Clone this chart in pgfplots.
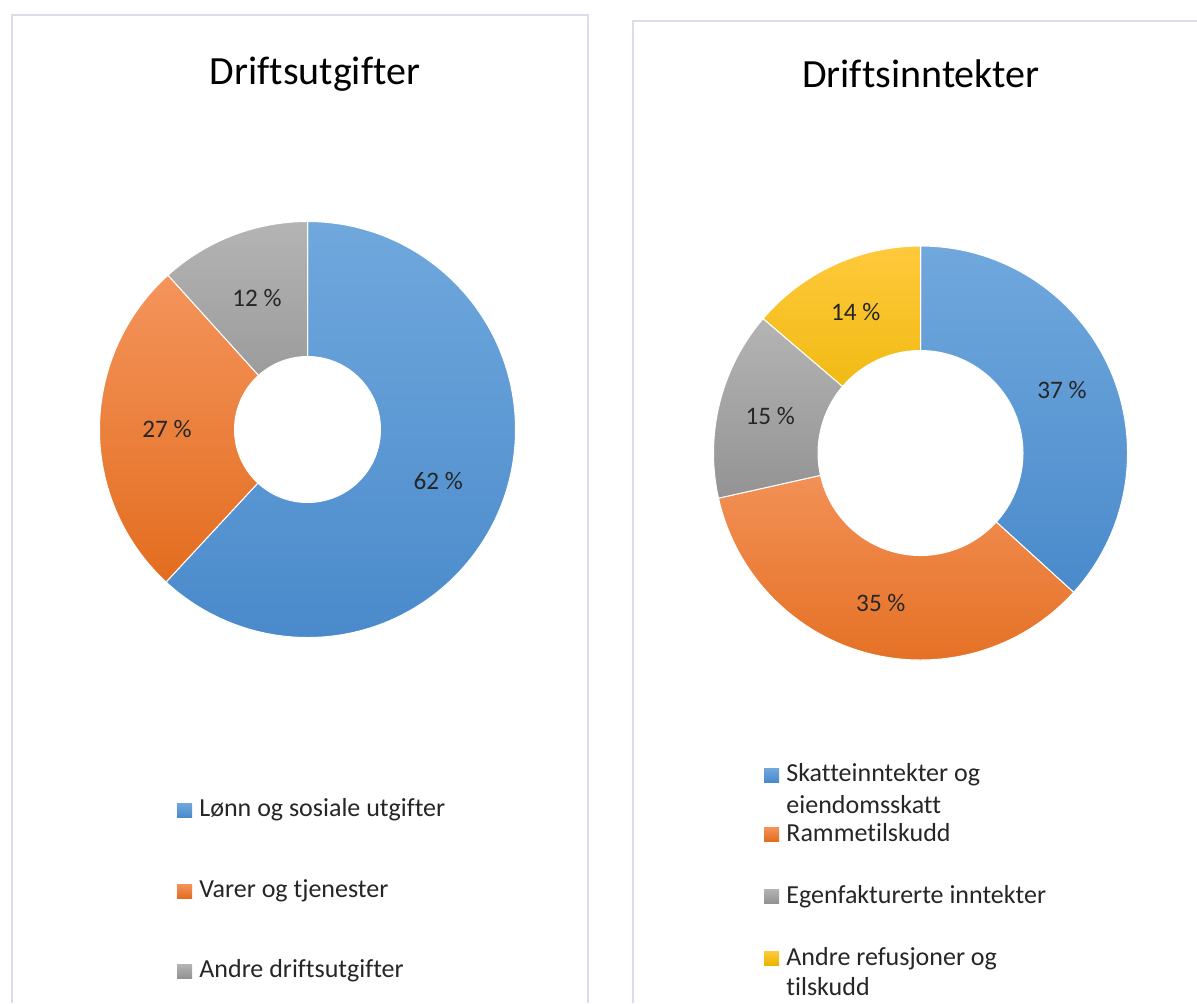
\documentclass[border=0pt]{standalone}
\usepackage{pgfplots}
\pgfplotsset{compat=1.18}
\usepackage{fontspec}
\setmainfont{Carlito}[Ligatures={NoCommon}]

\definecolor{bordercol}{HTML}{D9DEE8}
\definecolor{blueT}{HTML}{70A8DD}
\definecolor{blueB}{HTML}{4A8ACB}
\definecolor{orangeT}{HTML}{F4945C}
\definecolor{orangeB}{HTML}{E36D1F}
\definecolor{grayT}{HTML}{B4B4B4}
\definecolor{grayB}{HTML}{939393}
\definecolor{yellowT}{HTML}{FFC93C}
\definecolor{yellowB}{HTML}{E9B400}
\definecolor{txt}{HTML}{262626}

% #1 start (%), #2 value (%), #3 outer radius (pt), #4 inner radius (pt),
% #5 top colour, #6 bottom colour, #7 label
\newcommand\slice[7]{%
  \pgfmathsetmacro\sa{90-3.6*(#1)}%
  \pgfmathsetmacro\ea{90-3.6*((#1)+(#2))}%
  \pgfmathsetmacro\ia{\ea+180}%
  \pgfmathsetmacro\ma{90-3.6*((#1)+(#2)/2)}%
  \pgfmathsetmacro\rmid{((#3)+(#4))/2}%
  \pgfmathsetmacro\dr{(#3)-(#4)}%
  \edef\tmpa{\noexpand\path[draw=white, line width=0.5pt, top color=#5, bottom color=#6]
    (axis cs:0,0) ++(\sa:#3pt) arc[start angle=\sa, end angle=\ea, radius=#3pt]
    -- ++(\ia:\dr pt) arc[start angle=\ea, end angle=\sa, radius=#4pt] -- cycle;}%
  \tmpa
  \edef\tmpb{\noexpand\path (axis cs:0,0) ++(\ma:\rmid pt) node[text=txt, font=\noexpand\fontsize{12.6pt}{15pt}\noexpand\selectfont] {\unexpanded{#7}};}%
  \tmpb
}

\begin{document}
\begin{tikzpicture}[x=0.5pt, y=-0.5pt]
\useasboundingbox (0,0) rectangle (1197,1003);
\fill[white] (0,0) rectangle (1197,1003);

% panel borders
\draw[bordercol, line width=1pt] (12,1003) -- (12,15) -- (588,15) -- (588,1003);
\draw[bordercol, line width=1pt] (633,1003) -- (633,21) -- (1197,21);

% titles
\node[text=black, font=\fontsize{20pt}{24pt}\selectfont] at (315,74) {Driftsutgifter};
\node[text=black, font=\fontsize{20pt}{24pt}\selectfont] at (921,74) {Driftsinntekter};

% left donut
\coordinate (c1) at (307.5,429.5);
\begin{axis}[at={(c1)}, anchor=center, hide axis, scale only axis,
  width=208pt, height=208pt, xmin=-1, xmax=1, ymin=-1, ymax=1, clip=false]
  \slice{0}{61.9}{104}{36.5}{blueT}{blueB}{62 \%}
  \slice{61.9}{26.4}{104}{36.5}{orangeT}{orangeB}{27 \%}
  \slice{88.3}{11.7}{104}{36.5}{grayT}{grayB}{12 \%}
\end{axis}

% right donut
\coordinate (c2) at (920.5,453);
\begin{axis}[at={(c2)}, anchor=center, hide axis, scale only axis,
  width=207pt, height=207pt, xmin=-1, xmax=1, ymin=-1, ymax=1, clip=false]
  \slice{0}{36.75}{103.5}{51.25}{blueT}{blueB}{37 \%}
  \slice{36.75}{34.75}{103.5}{51.25}{orangeT}{orangeB}{35 \%}
  \slice{71.5}{14.75}{103.5}{51.25}{grayT}{grayB}{15 \%}
  \slice{86.25}{13.75}{103.5}{51.25}{yellowT}{yellowB}{14 \%}
\end{axis}

% left legend
\tikzset{lgtxt/.style={anchor=base west, inner sep=0pt, text=txt, font=\fontsize{13pt}{15.5pt}\selectfont}}
\shade[top color=blueT, bottom color=blueB] (177,803) rectangle (192,817);
\node[lgtxt] at (199,816) {Lønn og sosiale utgifter};
\shade[top color=orangeT, bottom color=orangeB] (177,884) rectangle (192,898);
\node[lgtxt] at (199,897) {Varer og tjenester};
\shade[top color=grayT, bottom color=grayB] (177,964) rectangle (192,978);
\node[lgtxt] at (199,977) {Andre driftsutgifter};

% right legend
\shade[top color=blueT, bottom color=blueB] (764,768) rectangle (779,782);
\node[lgtxt] at (786,781) {Skatteinntekter og};
\node[lgtxt] at (786,813) {eiendomsskatt};
\shade[top color=orangeT, bottom color=orangeB] (764,827) rectangle (779,841);
\node[lgtxt] at (786,841) {Rammetilskudd};
\shade[top color=grayT, bottom color=grayB] (764,889) rectangle (779,903);
\node[lgtxt] at (786,903) {Egenfakturerte inntekter};
\shade[top color=yellowT, bottom color=yellowB] (764,951) rectangle (779,965);
\node[lgtxt] at (786,965) {Andre refusjoner og};
\node[lgtxt] at (786,995) {tilskudd};
\end{tikzpicture}
\end{document}
